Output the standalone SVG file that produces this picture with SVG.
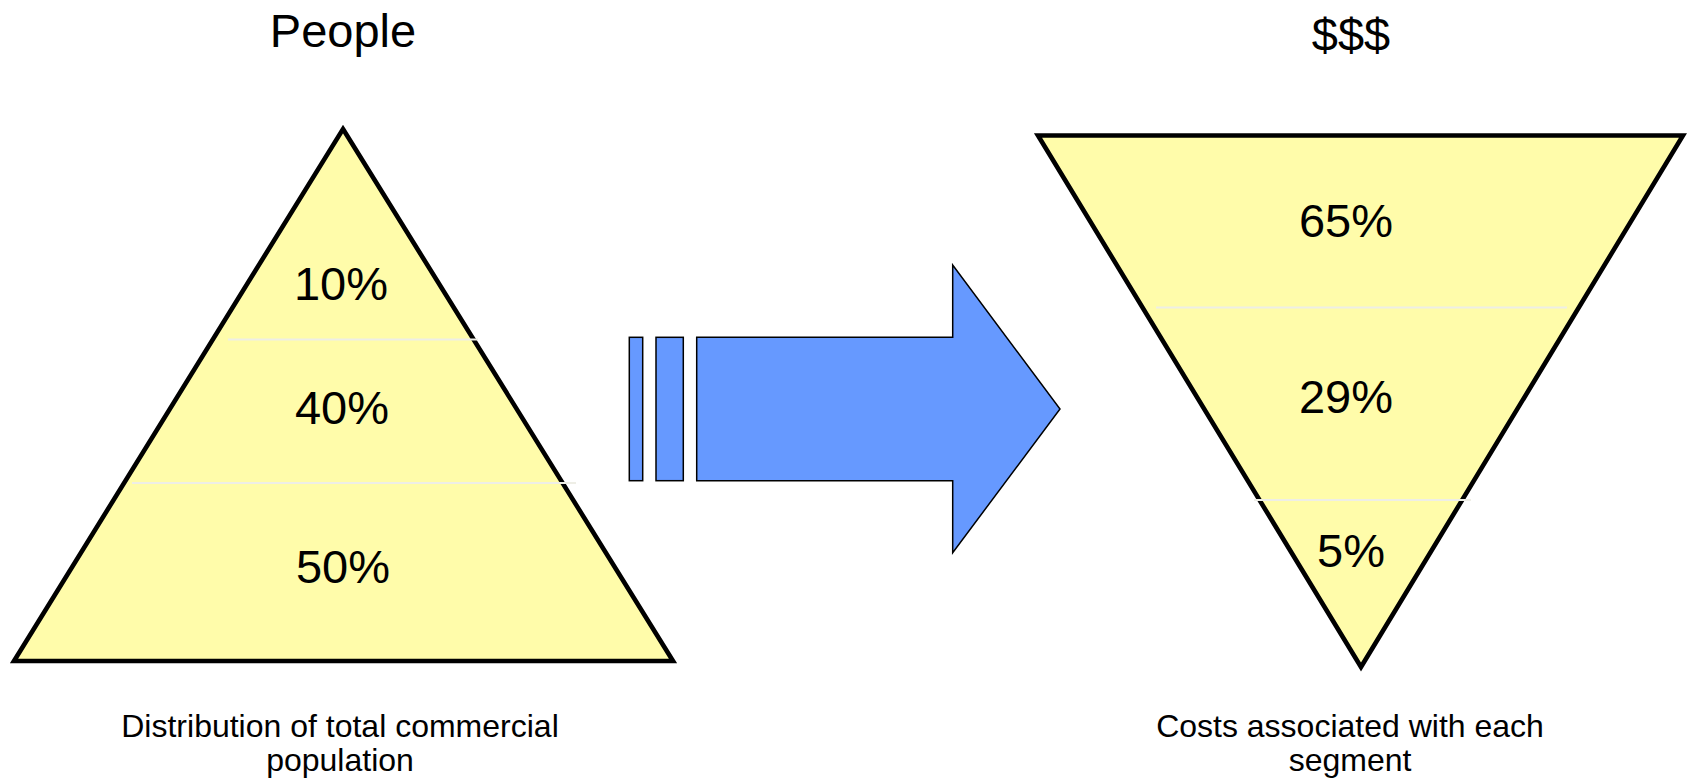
<svg xmlns="http://www.w3.org/2000/svg" width="1687" height="778" viewBox="0 0 1687 778">
<style>
  text { font-family: "Liberation Sans", Arial, sans-serif; fill: #000; }
  .title { font-size: 47px; text-anchor: middle; }
  .pct { font-size: 47px; text-anchor: middle; }
  .cap { font-size: 32px; text-anchor: middle; }
  .tri { fill: #FFFCAA; stroke: #000; stroke-width: 4.6; stroke-linejoin: miter; }
  .div { stroke: #EEEEE6; stroke-width: 2; }
  .blue { fill: #6699FF; stroke: #000; stroke-width: 1.5; stroke-linejoin: miter; }
</style>
<rect width="1687" height="778" fill="#fff"/>

<g id="people-pyramid">
  <text class="title" x="343" y="47">People</text>
  <polygon class="tri" points="343,129 673,661 14,661"/>
  <line class="div" x1="228" y1="339.5" x2="478" y2="339.5"/>
  <line class="div" x1="132" y1="483" x2="576" y2="483"/>
  <text class="pct" x="341" y="300">10%</text>
  <text class="pct" x="342" y="424">40%</text>
  <text class="pct" x="343" y="583">50%</text>
  <text class="cap" x="340" y="737">Distribution of total commercial</text>
  <text class="cap" x="340" y="771">population</text>
</g>

<g id="cost-funnel">
  <text class="title" x="1351" y="51">$$$</text>
  <polygon class="tri" points="1038,135.5 1683,135.5 1361,667"/>
  <line class="div" x1="1156" y1="307.5" x2="1567" y2="307.5"/>
  <line class="div" x1="1254" y1="500" x2="1471" y2="500"/>
  <text class="pct" x="1346" y="237">65%</text>
  <text class="pct" x="1346" y="413">29%</text>
  <text class="pct" x="1351" y="567">5%</text>
  <text class="cap" x="1350" y="737">Costs associated with each</text>
  <text class="cap" x="1350" y="771">segment</text>
</g>

<g id="connectors">
  <rect class="blue" x="629.3" y="337.3" width="13.4" height="143.4"/>
  <rect class="blue" x="656" y="337.3" width="27.3" height="143.4"/>
  <polygon class="blue" points="696.7,337.3 952.7,337.3 952.7,265 1060,409 952.7,552.7 952.7,480.7 696.7,480.7"/>
</g>
</svg>
